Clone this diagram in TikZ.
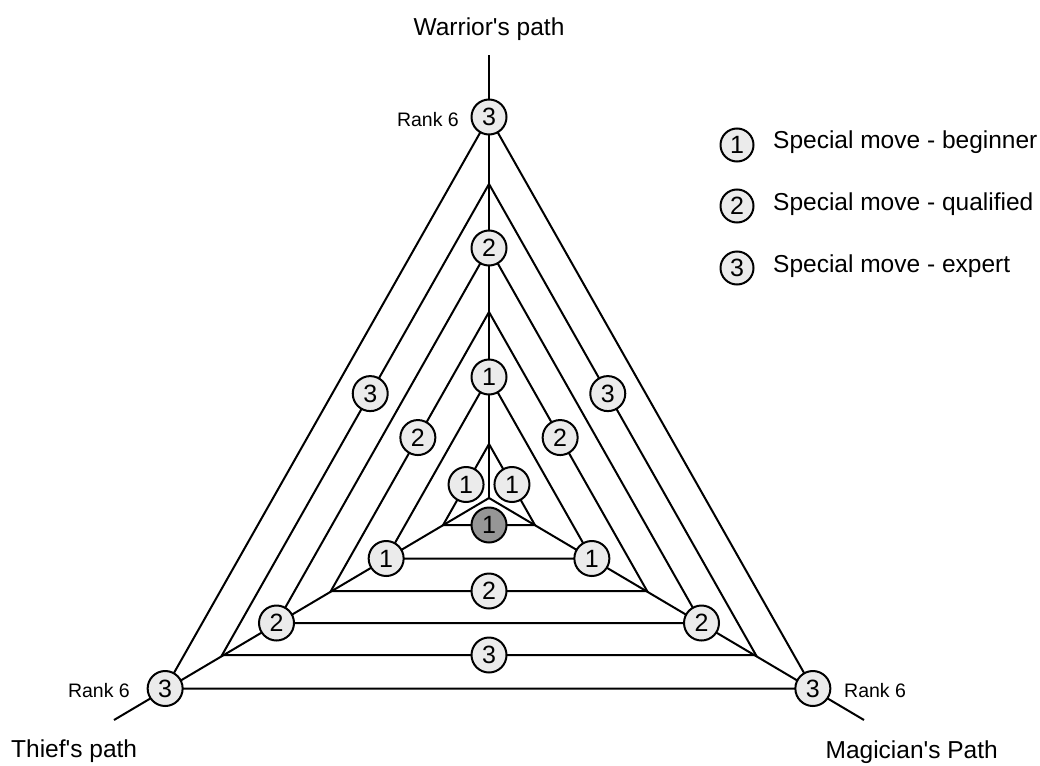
\documentclass[tikz,border=0pt]{standalone}
\usepackage{fontspec}
\setmainfont{Liberation Sans}
\usetikzlibrary{calc}
\definecolor{badgefill}{HTML}{EBEBEB}
\definecolor{badgedark}{HTML}{969696}
\begin{document}
\begin{tikzpicture}[x=1pt,y=-1pt,
  ln/.style={line width=2pt},
  badge/.style={circle,draw,line width=2pt,fill=badgefill,minimum size=35pt,inner sep=0pt,
    font=\fontsize{25}{25}\selectfont},
  keybadge/.style={badge,minimum size=33pt},
  bigtext/.style={font=\fontsize{24.5}{28}\selectfont,inner sep=0pt},
  ranktext/.style={font=\fontsize{19.5}{23}\selectfont,inner sep=0pt}]
\useasboundingbox (0,0) rectangle (1040,765);
\coordinate (O) at (489,498);
\coordinate (WE) at (489,55);
\coordinate (TE) at (114,720);
\coordinate (ME) at (864,720);
\draw[ln] (O) -- (WE);
\draw[ln] (O) -- (TE);
\draw[ln] (O) -- (ME);
\foreach \k/\r in {1/54,2/121,3/186,4/250,5/314,6/381}{
  \coordinate (T\k) at (489,498-\r);
  \coordinate (L\k) at (489-0.85*\r,498+0.5*\r);
  \coordinate (R\k) at (489+0.85*\r,498+0.5*\r);
  \draw[ln] (T\k) -- (L\k) -- (R\k) -- cycle;
}
% level 1
\node[badge] (a1l) at ($(T1)!0.5!(L1)$) {1};
\node[badge] (a1r) at ($(T1)!0.5!(R1)$) {1};
\node[badge,fill=badgedark] (a1b) at ($(L1)!0.5!(R1)$) {1};
% level 2
\node[badge] (a2t) at (T2) {1};
\node[badge] (a2l) at (L2) {1};
\node[badge] (a2r) at (R2) {1};
% level 3
\node[badge] (a3l) at ($(T3)!0.45!(L3)$) {2};
\node[badge] (a3r) at ($(T3)!0.45!(R3)$) {2};
\node[badge] (a3b) at ($(L3)!0.5!(R3)$) {2};
% level 4
\node[badge] (a4t) at (T4) {2};
\node[badge] (a4l) at (L4) {2};
\node[badge] (a4r) at (R4) {2};
% level 5
\node[badge] (a5l) at ($(T5)!0.445!(L5)$) {3};
\node[badge] (a5r) at ($(T5)!0.445!(R5)$) {3};
\node[badge] (a5b) at ($(L5)!0.5!(R5)$) {3};
% level 6
\node[badge] (a6t) at (T6) {3};
\node[badge] (a6l) at (L6) {3};
\node[badge] (a6r) at (R6) {3};
% path labels
\node[bigtext,anchor=base] (warrior) at (489,36) {Warrior\textquotesingle s path};
\node[bigtext,anchor=base west] (thief) at (11,757) {Thief\textquotesingle s path};
\node[bigtext,anchor=base east] (magician) at (998,758) {Magician\textquotesingle s Path};
% rank labels
\node[ranktext,anchor=base east] (rk1) at (459,126) {Rank 6};
\node[ranktext,anchor=base east] (rk2) at (130,697) {Rank 6};
\node[ranktext,anchor=base west] (rk3) at (844,697) {Rank 6};
% legend
\node[keybadge] (k1) at (737,145) {1};
\node[keybadge] (k2) at (737,206) {2};
\node[keybadge] (k3) at (737,268) {3};
\node[bigtext,anchor=base west] (t1) at (773,148) {Special move - beginner};
\node[bigtext,anchor=base west] (t2) at (773,210) {Special move - qualified};
\node[bigtext,anchor=base west] (t3) at (773,272) {Special move - expert};
\end{tikzpicture}
\end{document}
